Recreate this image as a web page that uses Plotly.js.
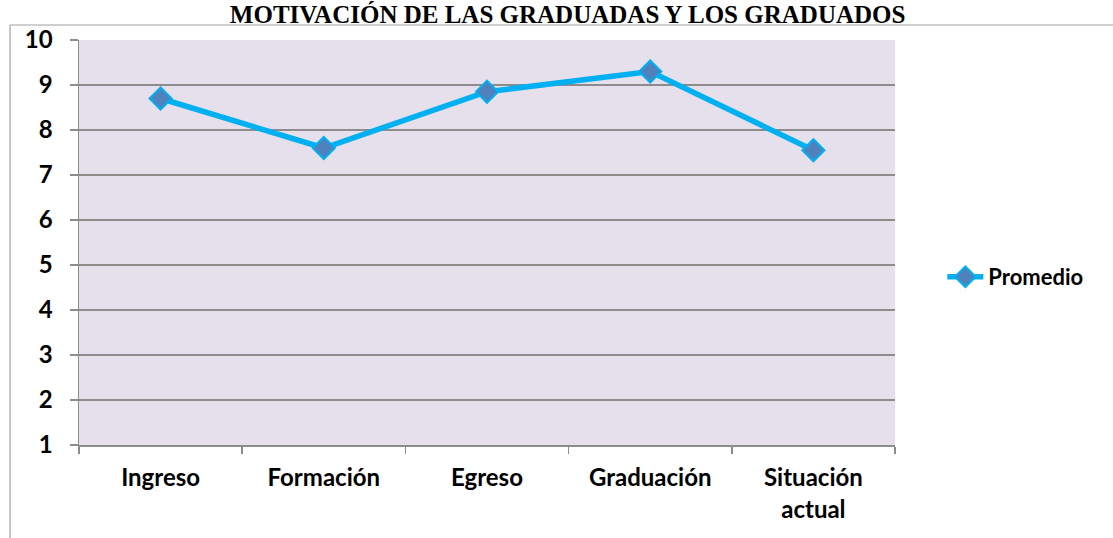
<!DOCTYPE html>
<html><head><meta charset="utf-8">
<script src="https://cdn.plot.ly/plotly-3.0.1.min.js"></script>
<style>html,body{margin:0;padding:0;background:#fff;}#chart{width:1113px;height:538px;}</style>
</head><body><div id="chart"></div>
<script>
var categories = ["Ingreso", "Formación", "Egreso", "Graduación", "Situación<br>actual"];
var promedio = [8.7, 7.6, 8.85, 9.3, 7.55];
var seriesName = "Promedio";
var yTicks = [1, 2, 3, 4, 5, 6, 7, 8, 9, 10];
var chartTitle = "MOTIVACIÓN DE LAS GRADUADAS Y LOS GRADUADOS";

var font = "Lato, 'Open Sans', sans-serif";
var trace = {
  x: categories, y: promedio, name: seriesName, type: "scatter", mode: "lines+markers",
  line: {color: "#00b0f0", width: 5.5},
  marker: {symbol: "diamond", size: 17, color: "#4f81bd", line: {color: "#00b0f0", width: 2}}
};
var layout = {
  width: 1113, height: 538,
  margin: {l: 79, r: 218, t: 40, b: 93},
  paper_bgcolor: "#ffffff", plot_bgcolor: "#e6e0ec",
  title: {text: "<b>" + chartTitle + "</b>", font: {family: "'Liberation Serif', 'Times New Roman', serif", size: 25, color: "#000"},
          x: 0.51, xref: "container", xanchor: "center", y: 0.99, yref: "container", yanchor: "top", pad: {t: 0, b: 0}},
  showlegend: true,
  legend: {x: 1.058, xanchor: "left", y: 0.415, yanchor: "middle", itemwidth: 36, borderwidth: 0,
           font: {family: font, size: 22, color: "#000", weight: "bold"}, bgcolor: "rgba(0,0,0,0)"},
  xaxis: {type: "category", range: [-0.5, 4.5], showgrid: false, showline: true, linecolor: "#8c8c8c", linewidth: 1.5,
          ticks: "outside", ticklen: 7, tickcolor: "#8c8c8c", tickwidth: 1.5, tickson: "boundaries",
          tickfont: {family: font, size: 24, color: "#000", weight: "bold"}, ticklabelstandoff: 11, zeroline: false},
  yaxis: {range: [1, 10], tickvals: yTicks, showgrid: true, gridcolor: "#8c8c8c", gridwidth: 1.5,
          showline: true, linecolor: "#8c8c8c", linewidth: 1.5, ticks: "outside", ticklen: 8, tickcolor: "#8c8c8c", tickwidth: 1.5,
          tickfont: {family: font, size: 24, color: "#000", weight: "bold"}, ticklabelstandoff: 12, zeroline: false},
  shapes: [
    {type: "line", xref: "paper", yref: "paper", x0: -0.0845, x1: -0.0845, y0: -0.23, y1: 1.037, line: {color: "#a0a0a0", width: 1.2}},
    {type: "line", xref: "paper", yref: "paper", x0: -0.0845, x1: 1.27, y0: 1.037, y1: 1.037, line: {color: "#a0a0a0", width: 1.2}}
  ]
};
Plotly.newPlot("chart", [trace], layout, {displayModeBar: false, staticPlot: true});
</script></body></html>
